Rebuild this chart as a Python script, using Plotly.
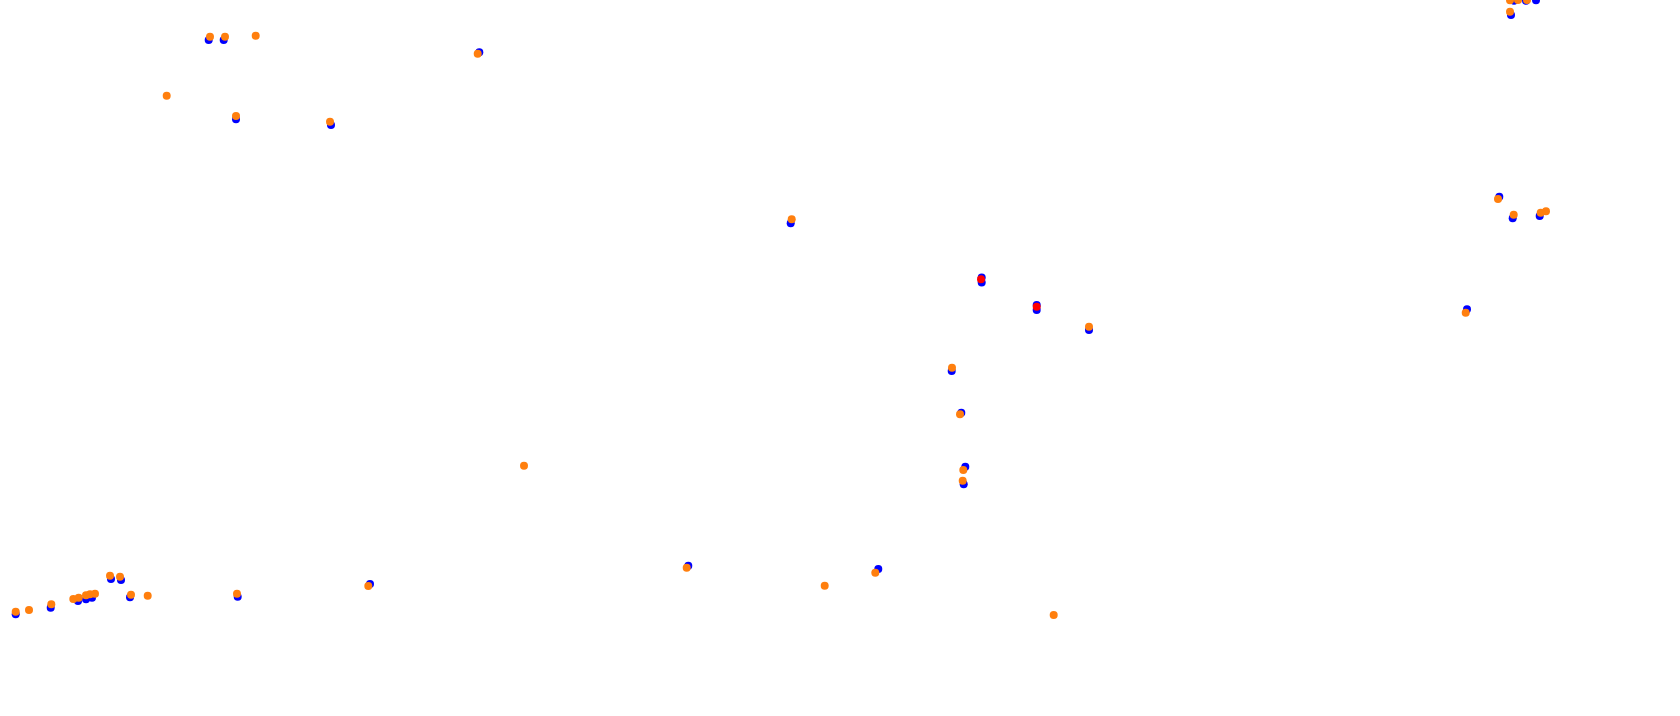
import plotly.graph_objects as go

blue_x = [15.7, 50.7, 78, 86, 92, 111, 121, 130, 237.7,
          208.7, 223.7, 479.3, 236, 331,
          1514, 1526, 1536, 1511, 1499.3, 1512.7, 1539.7,
          981.7, 981.7, 1036.7, 1036.7, 1089,
          951.7, 961.3, 965.3, 963.7,
          1467, 790.7, 688.3, 878.3, 370]
blue_y = [614.3, 607.7, 601, 599.3, 597.7, 579, 580, 597.3, 596.7,
          40, 40, 52.3, 119.3, 125,
          0.8, 0.8, 0.3, 15, 196.7, 218.3, 216,
          277.5, 282.5, 305, 310, 330,
          371, 412.7, 466.7, 484.3,
          309.3, 223.3, 565.7, 569, 584]

orange_x = [15.7, 29, 51.3, 73.3, 78.7, 86, 90, 95, 110, 120, 131, 147.7, 237,
            210, 225, 255.7, 477.7, 166.7, 236, 330,
            1510, 1518, 1527, 1510, 1498, 1513.7, 1540.7, 1546,
            1089, 952, 960, 963.3, 962.7, 1465.7, 791.7, 686.7, 824.7, 875.3,
            1053.7, 368.3, 524]
orange_y = [611.7, 610, 604.3, 599, 597.7, 595.3, 594.3, 593.7, 575.7, 576.7, 594.7, 595.7, 593.7,
            36.7, 36.7, 35.7, 53.7, 95.7, 116, 121.7,
            0.3, 0.1, 0.1, 11.7, 199, 214.7, 212.7, 211.3,
            326.7, 367.7, 414.3, 470, 480.7, 312.7, 219.3, 567.7, 585.7, 572.7,
            615, 586, 465.7]

red_x = [981, 1036.7]
red_y = [279.3, 306.7]

fig = go.Figure()
fig.add_trace(go.Scatter(x=blue_x, y=blue_y, mode="markers", cliponaxis=False,
                         marker=dict(color="#0000ff", size=8, line=dict(width=0)),
                         showlegend=False))
fig.add_trace(go.Scatter(x=orange_x, y=orange_y, mode="markers", cliponaxis=False,
                         marker=dict(color="#ff7f0e", size=8, line=dict(width=0)),
                         showlegend=False))
fig.add_trace(go.Scatter(x=red_x, y=red_y, mode="markers", cliponaxis=False,
                         marker=dict(color="#ff0000", size=8, line=dict(width=0)),
                         showlegend=False))

fig.update_layout(
    width=1680, height=716,
    margin=dict(l=0, r=0, t=0, b=0),
    paper_bgcolor="white", plot_bgcolor="white",
    xaxis=dict(range=[0, 1680], visible=False, fixedrange=True),
    yaxis=dict(range=[716, 0], visible=False, fixedrange=True),
)
fig.write_html("out.html", config={"displayModeBar": False},
               post_script="document.body.style.margin='0px';document.body.style.overflow='hidden';")
